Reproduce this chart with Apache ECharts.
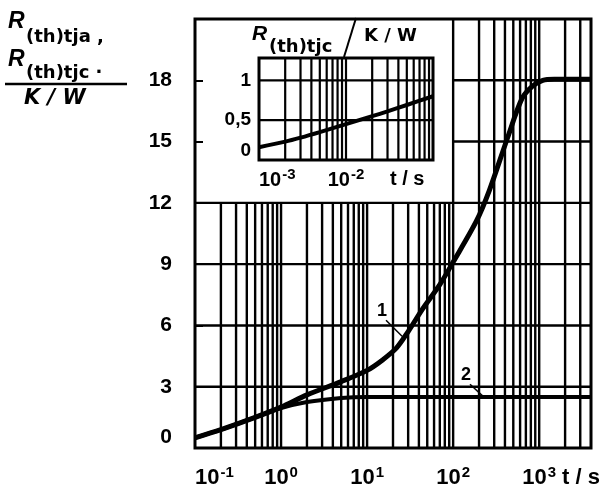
<!DOCTYPE html>
<html><head><meta charset="utf-8">
<script src="https://cdn.jsdelivr.net/npm/echarts@6/dist/echarts.min.js"></script>
<style>html,body{margin:0;padding:0;background:#fff}#c{width:601px;height:489px}</style>
</head><body><div id="c"></div>
<script>
// ---- data ----
const t1 = [0.1, 0.2, 0.5, 1, 2, 5, 10, 15, 22, 30, 44, 70, 100, 186, 263, 430, 630, 830, 1100, 1500, 4000];
const r1 = [0.5, 0.9, 1.5, 2.0, 2.6, 3.25, 3.8, 4.3, 4.9, 5.7, 6.8, 8.0, 9.1, 11.1, 12.6, 15.2, 17.1, 17.7, 18.0, 18.05, 18.05];
const t2 = [0.1, 0.2, 0.5, 1, 2, 5, 10, 30, 100, 1000, 4000];
const r2 = [0.5, 0.9, 1.5, 1.95, 2.25, 2.45, 2.5, 2.5, 2.5, 2.5, 2.5];
const tIn = [0.001, 0.002, 0.003, 0.005, 0.01, 0.02, 0.03, 0.05, 0.1];
const rIn = [0.16, 0.23, 0.28, 0.35, 0.45, 0.55, 0.61, 0.69, 0.8];
const mainYTicks = [0, 3, 6, 9, 12, 15, 18];
const mainXDecades = [0.1, 1, 10, 100, 1000];
const insetYTicks = [0, 0.5, 1];
const insetXDecades = [0.001, 0.01];
const multipliers = [1, 2, 3, 4, 5, 6, 7, 8, 9];

// ---- grid line segments (axis furniture) ----
const mainGrid = [];
[0.1, 1, 10, 100, 1000].forEach(d => multipliers.forEach(m => {
  const v = +(d * m).toPrecision(3);
  if (v <= 0.1 || v >= 4000) return;
  mainGrid.push(v <= 99 ? [v, 0, v, 12] : [v, 0, v, 21]);
}));
[3, 6, 9, 12].forEach(y => mainGrid.push([0.1, y, 4000, y]));
[15, 18].forEach(y => mainGrid.push([100, y, 4000, y]));
const insetGrid = [];
[0.001, 0.01].forEach(d => multipliers.forEach(m => {
  const v = +(d * m).toPrecision(3);
  if (v <= 0.001 || v >= 0.1) return;
  insetGrid.push([v, 0, v, 1.28]);
}));
[0.5, 1].forEach(y => insetGrid.push([0.001, y, 0.1, y]));

const zip = (a, b) => a.map((v, i) => [v, b[i]]);
const NUM = 'Liberation Sans, Arial, sans-serif';
const SUB = 'DejaVu Sans, sans-serif';

function segRender(lw) {
  return function (params, api) {
    const p0 = api.coord([api.value(0), api.value(1)]);
    const p1 = api.coord([api.value(2), api.value(3)]);
    return { type: 'line', shape: { x1: p0[0], y1: p0[1], x2: p1[0], y2: p1[1] },
      style: { stroke: '#000', lineWidth: lw } };
  };
}
function decadeLabel(list) {
  return function (v) {
    const hit = list.find(d => Math.abs(d - v) / d < 1e-6);
    if (hit === undefined) return '';
    return '10{s|' + Math.round(Math.log10(hit)) + '}';
  };
}
const rich = { s: { fontSize: 15, fontWeight: 'bold', fontFamily: NUM, verticalAlign: 'top', padding: [0, 0, 11, 1] } };

const chart = echarts.init(document.getElementById('c'), null, { renderer: 'canvas' });
chart.setOption({
  animation: false,
  backgroundColor: '#fff',
  grid: [
    { left: 195, right: 10, top: 19, bottom: 40, show: true, borderColor: '#000', borderWidth: 3, backgroundColor: 'transparent' },
    { left: 259, right: 168, top: 58, bottom: 329, show: true, borderColor: '#000', borderWidth: 3, backgroundColor: '#fff' }
  ],
  xAxis: [
    { type: 'log', gridIndex: 0, min: 0.1, max: 4000, logBase: 10,
      axisLine: { show: false }, axisTick: { show: false }, splitLine: { show: false },
      axisLabel: { margin: 17, formatter: decadeLabel(mainXDecades), color: '#000', fontSize: 22, fontWeight: 'bold', fontFamily: NUM, rich: rich, alignMinLabel: 'left' } },
    { type: 'log', gridIndex: 1, min: 0.001, max: 0.1, logBase: 10,
      axisLine: { show: false }, axisTick: { show: false }, splitLine: { show: false },
      axisLabel: { margin: 7, formatter: decadeLabel(insetXDecades), color: '#000', fontSize: 20, fontWeight: 'bold', fontFamily: NUM, rich: rich, alignMinLabel: 'left' } }
  ],
  yAxis: [
    { type: 'value', gridIndex: 0, min: 0, max: 21, interval: 3,
      axisLine: { show: false }, splitLine: { show: false },
      axisTick: { show: true, inside: true, length: 8, lineStyle: { color: '#000', width: 2 } },
      axisLabel: { margin: 23, color: '#000', fontSize: 21, fontWeight: 'bold', fontFamily: NUM,
        verticalAlignMinLabel: 'bottom',
        formatter: v => mainYTicks.includes(v) ? String(v) : '' } },
    { type: 'value', gridIndex: 1, min: 0, max: 1.28, interval: 0.5,
      axisLine: { show: false }, splitLine: { show: false }, axisTick: { show: false },
      axisLabel: { margin: 8, color: '#000', fontSize: 19, fontWeight: 'bold', fontFamily: NUM,
        verticalAlignMinLabel: 'bottom',
        formatter: v => insetYTicks.includes(v) ? String(v).replace('.', ',') : '' } }
  ],
  series: [
    { type: 'custom', xAxisIndex: 0, yAxisIndex: 0, data: mainGrid, renderItem: segRender(2.4),
      encode: { x: [0, 2], y: [1, 3] }, silent: true, z: 1 },
    { type: 'custom', xAxisIndex: 1, yAxisIndex: 1, data: insetGrid, renderItem: segRender(2.2),
      encode: { x: [0, 2], y: [1, 3] }, silent: true, z: 1 },
    { name: '1', type: 'line', xAxisIndex: 0, yAxisIndex: 0, data: zip(t1, r1), smooth: 0.3,
      symbol: 'none', lineStyle: { color: '#000', width: 5 }, z: 3,
      markLine: { silent: true, symbol: 'none', label: { show: false }, lineStyle: { color: '#000', width: 1.5, type: 'solid' },
        data: [[{ coord: [16.6, 6.25] }, { coord: [25.5, 5.47] }], [{ coord: [157, 3.12] }, { coord: [228, 2.49] }]] },
      markPoint: { silent: true, symbol: 'circle', symbolSize: 0,
        label: { show: true, color: '#000', fontSize: 18, fontWeight: 'bold', fontFamily: NUM, position: 'inside' },
        data: [{ coord: [14.9, 6.7], value: '1' }, { coord: [141, 3.56], value: '2' }] } },
    { name: '2', type: 'line', xAxisIndex: 0, yAxisIndex: 0, data: zip(t2, r2), smooth: 0.3,
      symbol: 'none', lineStyle: { color: '#000', width: 4 }, z: 3 },
    { name: 'inset', type: 'line', xAxisIndex: 1, yAxisIndex: 1, data: zip(tIn, rIn), smooth: 0.3,
      symbol: 'none', lineStyle: { color: '#000', width: 4 }, z: 3 }
  ],
  graphic: [
    { type: 'text', left: 8, top: 10, style: { text: 'R', font: 'italic bold 23px ' + NUM, fill: '#000' } },
    { type: 'text', left: 26, top: 28, style: { text: '(th)tja ,', font: 'bold 18px ' + SUB, fill: '#000' } },
    { type: 'text', left: 8, top: 48, style: { text: 'R', font: 'italic bold 23px ' + NUM, fill: '#000' } },
    { type: 'text', left: 26, top: 64, style: { text: '(th)tjc ·', font: 'bold 18px ' + SUB, fill: '#000' } },
    { type: 'line', shape: { x1: 5, y1: 84, x2: 127, y2: 84 }, style: { stroke: '#000', lineWidth: 2.5 } },
    { type: 'text', left: 24, top: 88, style: { text: 'K / W', font: 'italic bold 21px ' + SUB, fill: '#000' } },
    { type: 'text', left: 252, top: 24, style: { text: 'R', font: 'italic bold 21px ' + NUM, fill: '#000' } },
    { type: 'text', left: 269, top: 38, style: { text: '(th)tjc', font: 'bold 18px ' + SUB, fill: '#000' } },
    { type: 'line', shape: { x1: 356, y1: 18, x2: 344, y2: 57 }, style: { stroke: '#000', lineWidth: 2 } },
    { type: 'text', left: 364, top: 27, style: { text: 'K / W', font: 'bold 18px ' + SUB, fill: '#000' } },
    { type: 'text', left: 390, top: 169, style: { text: 't / s', font: 'bold 20px ' + NUM, fill: '#000' } },
    { type: 'text', left: 562, top: 467, style: { text: 't / s', font: 'bold 22px ' + NUM, fill: '#000' } }
  ]
});
</script></body></html>
